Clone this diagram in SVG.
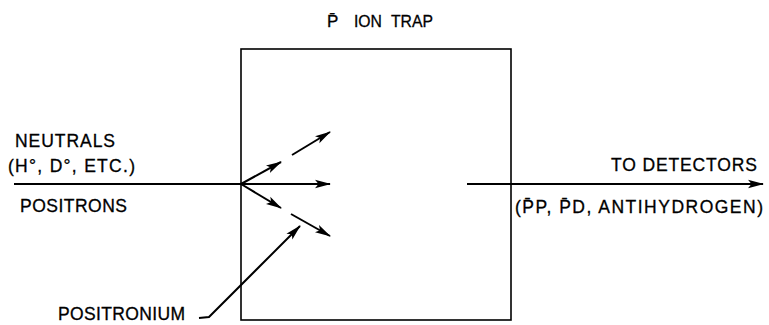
<svg xmlns="http://www.w3.org/2000/svg" width="769" height="325" viewBox="0 0 769 325">
<style>
.t{font-family:"Liberation Sans","DejaVu Sans",sans-serif;font-size:17.5px;fill:#000;stroke:#000;stroke-width:0.3}
.h{font-size:17px}
.ln{stroke:#000;stroke-width:2;fill:none}
.bx{stroke:#000;stroke-width:1.6;fill:#fff}
</style>
<defs>
<marker id="ah" markerWidth="16" markerHeight="10" refX="15" refY="5" orient="auto" markerUnits="userSpaceOnUse">
<path d="M0,0.8 L16,5 L0,9.2 L3.5,5 Z" fill="#000"/>
</marker>
</defs>
<g id="trap">
<rect class="bx" x="241" y="49" width="270" height="271"/>
<text class="t h" x="327" y="27">P̄</text>
<text class="t h" x="354" y="27" textLength="28" lengthAdjust="spacingAndGlyphs">ION</text>
<text class="t h" x="391" y="27" textLength="42" lengthAdjust="spacingAndGlyphs">TRAP</text>
</g>
<g id="inputs">
<text class="t" x="15" y="147" textLength="100" lengthAdjust="spacing">NEUTRALS</text>
<text class="t" x="8" y="172" textLength="127" lengthAdjust="spacing">(H°, D°, ETC.)</text>
<text class="t" x="20" y="212" textLength="107" lengthAdjust="spacing">POSITRONS</text>
</g>
<g id="outputs">
<text class="t" x="611" y="171" textLength="146" lengthAdjust="spacing">TO DETECTORS</text>
<text class="t" x="515" y="213" textLength="248" lengthAdjust="spacing">(P̄P, P̄D, ANTIHYDROGEN)</text>
</g>
<g id="positronium">
<text class="t" x="58" y="320" textLength="127" lengthAdjust="spacing">POSITRONIUM</text>
</g>
<g id="connectors">
<line class="ln" x1="14" y1="184" x2="241" y2="184"/>
<line class="ln" x1="241" y1="184" x2="281" y2="162" marker-end="url(#ah)"/>
<line class="ln" x1="292" y1="155" x2="330" y2="132" marker-end="url(#ah)"/>
<line class="ln" x1="241" y1="184" x2="330" y2="184" marker-end="url(#ah)"/>
<line class="ln" x1="241" y1="184" x2="281" y2="208" marker-end="url(#ah)"/>
<line class="ln" x1="291" y1="214" x2="330" y2="236" marker-end="url(#ah)"/>
<polyline class="ln" points="199,318 209,317 300,226" stroke-width="1.6" marker-end="url(#ah)"/>
<line class="ln" x1="467" y1="184" x2="763" y2="184" marker-end="url(#ah)"/>
</g>
</svg>
